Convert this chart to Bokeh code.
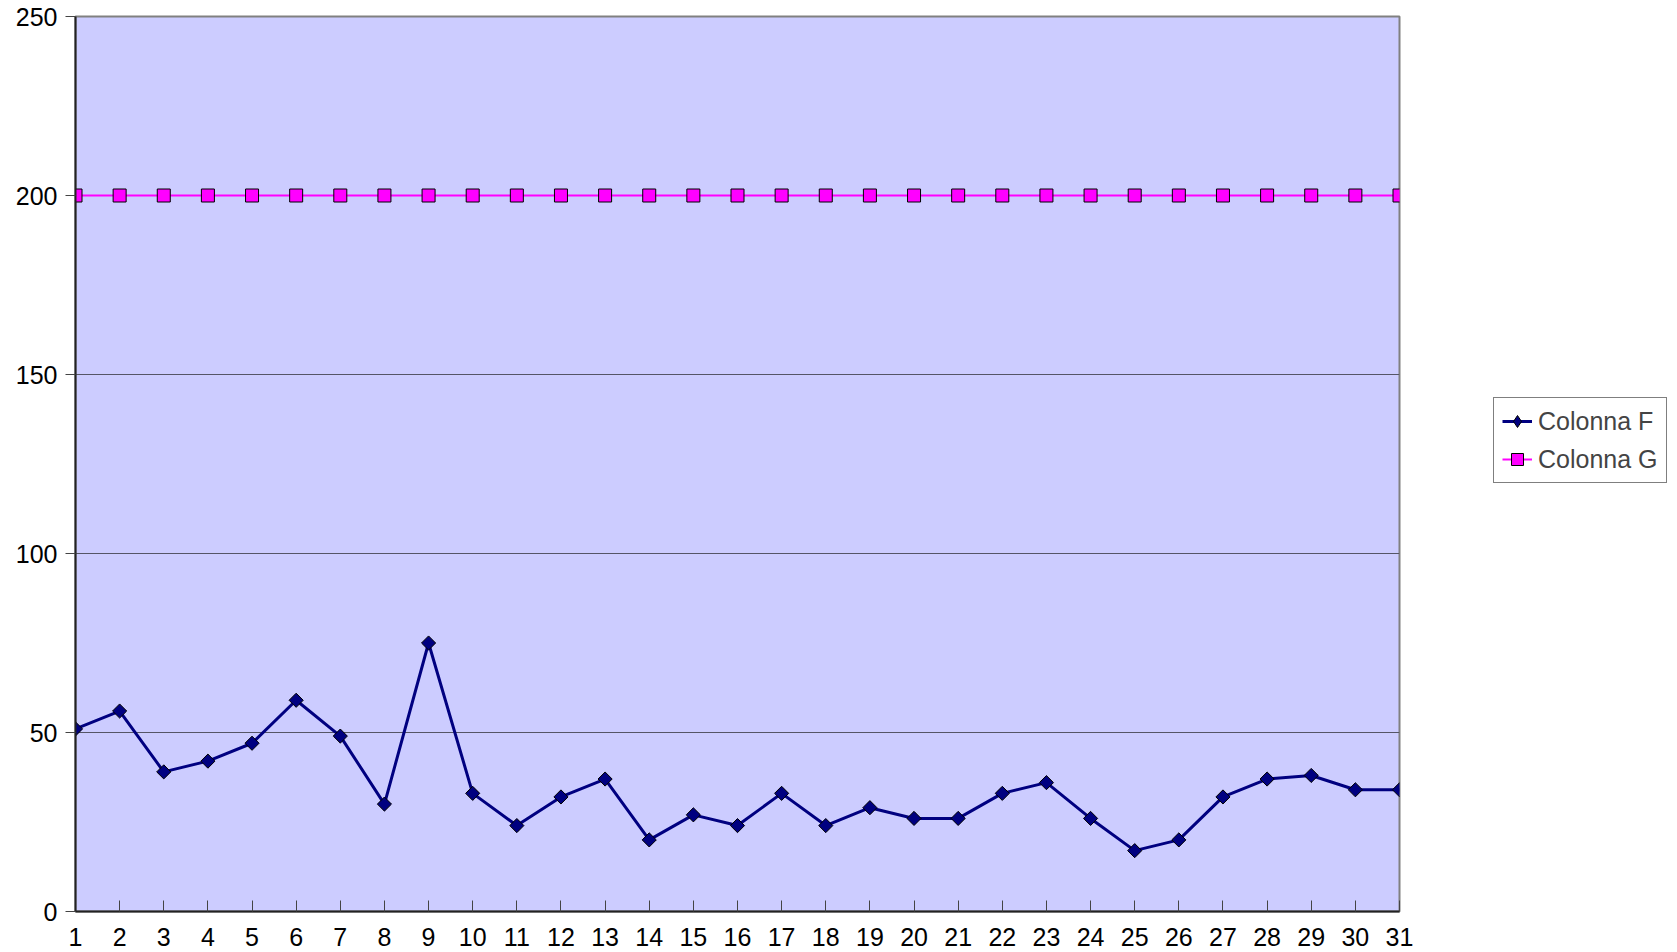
import math
from bokeh.plotting import figure
from bokeh.layouts import row
from bokeh.models import ColumnDataSource, FixedTicker, Legend, LegendItem, Range1d
from bokeh.embed import file_html
from bokeh.resources import INLINE

days = list(range(1, 32))
colonna_f = [51, 56, 39, 42, 47, 59, 49, 30, 75, 33, 24, 32, 37, 20, 27, 24, 33, 24, 29, 26,
             26, 33, 36, 26, 17, 20, 32, 37, 38, 34, 34]
colonna_g = [200] * 31
y_ticks = [0, 50, 100, 150, 200, 250]
series_names = ["Colonna F", "Colonna G"]

NAVY = "#000080"
MAGENTA = "#FF00FF"
FONT = "Liberation Sans"
H = 950

src = ColumnDataSource(dict(x=days, f=colonna_f, g=colonna_g))

p = figure(width=1420, height=H, output_backend="svg", toolbar_location=None,
           x_range=Range1d(1, 31), y_range=Range1d(0, 250),
           min_border_left=75, min_border_right=21, min_border_top=16, min_border_bottom=H - 911)
p.background_fill_color = "#CCCCFF"
p.border_fill_color = "white"
p.outline_line_color = "#808080"
p.outline_line_width = 2

p.xaxis.ticker = FixedTicker(ticks=days)
p.yaxis.ticker = FixedTicker(ticks=y_ticks)
for ax in (p.xaxis[0], p.yaxis[0]):
    ax.axis_line_color = "#222222"
    ax.axis_line_width = 2
    ax.major_tick_line_color = "#444444"
    ax.major_tick_line_width = 1
    ax.minor_tick_line_color = None
    ax.major_label_text_font = FONT
    ax.major_label_text_font_size = "25px"
    ax.major_label_text_color = "black"
p.xaxis.major_tick_in = 11
p.xaxis.major_tick_out = 0
p.xaxis.major_label_standoff = 16
p.yaxis.major_tick_in = 0
p.yaxis.major_tick_out = 10
p.yaxis.major_label_standoff = 8

p.xgrid.grid_line_color = None
p.ygrid.grid_line_color = "#555566"
p.ygrid.grid_line_width = 1

p.line("x", "f", source=src, line_color=NAVY, line_width=3)
p.scatter("x", "f", source=src, marker="square", size=10, angle=math.pi / 4,
          fill_color=NAVY, line_color="black", line_width=1)
p.line("x", "g", source=src, line_color=MAGENTA, line_width=2)
p.scatter("x", "g", source=src, marker="square", size=13, fill_color=MAGENTA,
          line_color="black", line_width=1)

# legend panel to the right of the plot area (its ranges keep the series out of view)
q = figure(width=257, height=H, output_backend="svg", toolbar_location=None,
           x_range=Range1d(-2, -1), y_range=Range1d(-2, -1),
           min_border_left=0, min_border_right=0, min_border_top=0, min_border_bottom=0)
q.axis.visible = False
q.grid.visible = False
q.outline_line_color = None
q.background_fill_color = "white"
q.border_fill_color = "white"
lf = q.line("x", "f", source=src, line_color=NAVY, line_width=3)
sf = q.scatter("x", "f", source=src, marker="diamond", size=17,
               fill_color=NAVY, line_color="black", line_width=1)
lg = q.line("x", "g", source=src, line_color=MAGENTA, line_width=2)
sg = q.scatter("x", "g", source=src, marker="square", size=13, fill_color=MAGENTA,
               line_color="black", line_width=1)

legend = Legend(items=[LegendItem(label=series_names[0], renderers=[lf, sf]),
                       LegendItem(label=series_names[1], renderers=[lg, sg])],
                location=(73, H - 482 - 40))
legend.label_text_font = FONT
legend.label_text_font_size = "25px"
legend.label_height = 30
legend.glyph_height = 30
legend.glyph_width = 30
legend.spacing = 8
legend.padding = 8
legend.margin = 0
legend.label_standoff = 6
legend.border_line_color = "black"
legend.border_line_width = 1
legend.background_fill_color = "white"
legend.background_fill_alpha = 1
q.add_layout(legend, "center")

layout = row(p, q, spacing=0)
open("out.html", "w").write(file_html(layout, INLINE))
